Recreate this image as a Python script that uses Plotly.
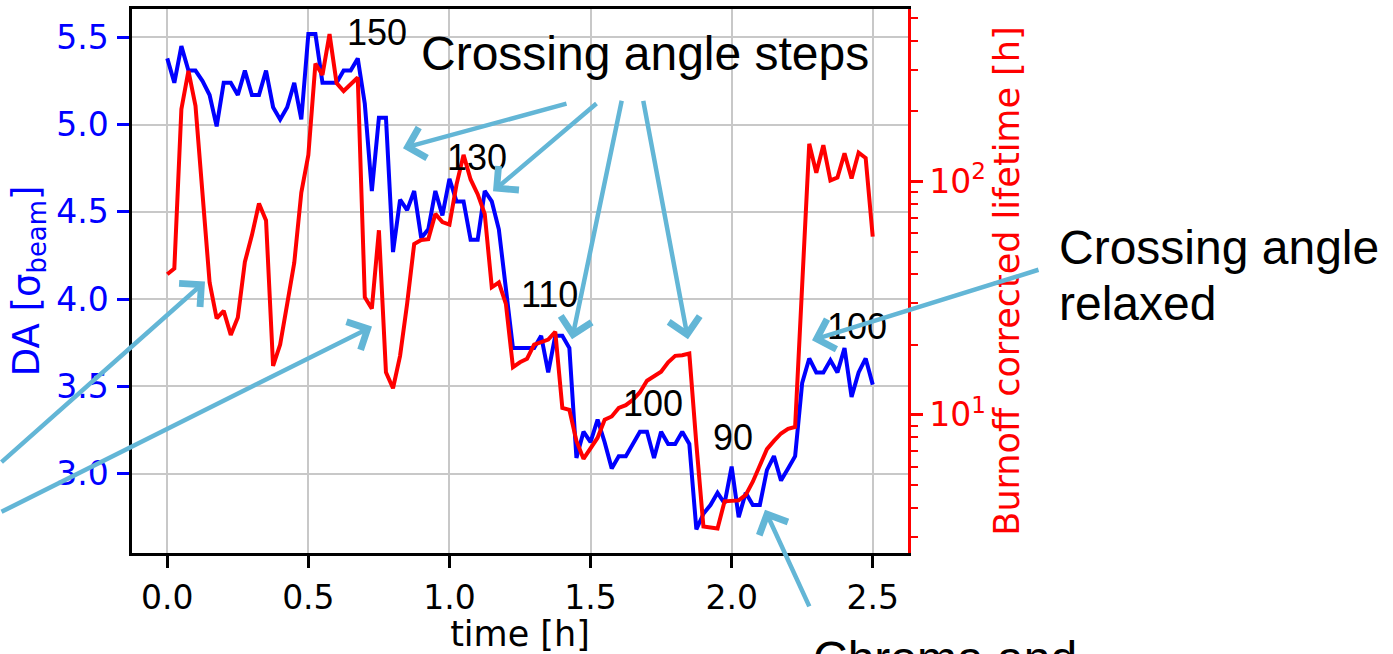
import plotly.graph_objects as go

# ---------------- data ----------------
time_h = [0.000, 0.025, 0.050, 0.075, 0.100, 0.125, 0.150, 0.175, 0.200, 0.225,
          0.250, 0.275, 0.300, 0.325, 0.350, 0.375, 0.400, 0.425, 0.450, 0.475,
          0.500, 0.525, 0.550, 0.575, 0.600, 0.625, 0.650, 0.675, 0.700, 0.725,
          0.750, 0.775, 0.800, 0.825, 0.850, 0.875, 0.900, 0.925, 0.950, 0.975,
          1.000, 1.025, 1.050, 1.075, 1.100, 1.125, 1.150, 1.175, 1.200, 1.225,
          1.250, 1.275, 1.300, 1.325, 1.350, 1.375, 1.400, 1.425, 1.450, 1.475,
          1.500, 1.525, 1.550, 1.575, 1.600, 1.625, 1.650, 1.675, 1.700, 1.725,
          1.750, 1.775, 1.800, 1.825, 1.850, 1.875, 1.900, 1.925, 1.950, 1.975,
          2.000, 2.025, 2.050, 2.075, 2.100, 2.125, 2.150, 2.175, 2.200, 2.225,
          2.250, 2.275, 2.300, 2.325, 2.350, 2.375, 2.400, 2.425, 2.450, 2.475,
          2.500]

da_sigma = [5.38, 5.24, 5.45, 5.31, 5.31, 5.25, 5.17, 4.99, 5.24, 5.24,
            5.17, 5.31, 5.17, 5.17, 5.31, 5.10, 5.03, 5.10, 5.24, 5.03,
            5.52, 5.52, 5.24, 5.24, 5.24, 5.31, 5.31, 5.38, 5.12, 4.62,
            5.04, 5.04, 4.27, 4.57, 4.51, 4.62, 4.35, 4.40, 4.62, 4.48,
            4.69, 4.56, 4.56, 4.34, 4.34, 4.62, 4.56, 4.40, 4.08, 3.72,
            3.72, 3.72, 3.72, 3.79, 3.58, 3.79, 3.79, 3.72, 3.09, 3.24,
            3.18, 3.31, 3.18, 3.03, 3.10, 3.10, 3.17, 3.24, 3.24, 3.09,
            3.24, 3.17, 3.17, 3.24, 3.17, 2.68, 2.77, 2.82, 2.89, 2.83,
            3.04, 2.75, 2.89, 2.82, 2.82, 3.02, 3.10, 2.96, 3.03, 3.10,
            3.52, 3.66, 3.58, 3.58, 3.65, 3.58, 3.72, 3.44, 3.58, 3.66,
            3.51]

lifetime_h = [40.0, 42.4, 204, 298, 211, 91, 36.9, 25.9, 27.9, 22.0,
              26.1, 45.2, 58.9, 80.5, 68.1, 16.2, 20.0, 29.9, 44.8, 89.6,
              130, 320, 286, 428, 264, 244, 260, 279, 31.9, 28.5,
              61.8, 15.2, 13.0, 17.9, 29.9, 54.0, 56.1, 56.6, 72.6, 67.0,
              65.3, 97, 130, 102, 88.2, 72.6, 35.2, 36.9, 29.9, 16.0,
              16.8, 17.4, 20.0, 20.6, 21.0, 22.7, 10.7, 10.5, 7.73, 6.48,
              7.25, 7.98, 9.53, 9.84, 10.7, 11.0, 11.6, 12.5, 14.0, 14.7,
              15.3, 16.8, 17.9, 18.0, 18.3, 7.5, 3.32, 3.29, 3.26, 4.26,
              4.26, 4.30, 4.54, 5.17, 6.07, 7.13, 7.73, 8.32, 8.71, 8.88,
              36, 145, 109, 143, 101, 104, 132, 103, 133, 126,
              58]

x_ticks = [0.0, 0.5, 1.0, 1.5, 2.0, 2.5]
da_ticks = [3.0, 3.5, 4.0, 4.5, 5.0, 5.5]
lt_ticks = [10, 100]
lt_ticktext = ["10<sup>1</sup>", "10<sup>2</sup>"]
lt_minor = [3, 4, 5, 6, 7, 8, 9, 20, 30, 40, 50, 60, 70, 80, 90, 200, 300, 400, 500]

# crossing-angle labels [µrad]
angle_labels = ["150", "130", "110", "100", "90", "100"]

# ---------------- layout geometry (pixels) ----------------
W, H = 1393, 654
L, R, T, B = 132, 908, 6, 561


def paper(px, py):
    return (px - L) / (R - L), (B - py) / (B - T)


tick_font = dict(family="DejaVu Sans", size=33)
title_font = dict(family="DejaVu Sans", size=35)
ann_font = dict(family="Liberation Sans, Arial", size=48, color="black")
num_font = dict(family="Liberation Sans, Arial", size=36, color="black")
arrow_color = "#63B6D6"

fig = go.Figure()
fig.add_trace(go.Scatter(x=time_h, y=da_sigma, mode="lines",
                         line=dict(color="#0000ff", width=4), yaxis="y"))
fig.add_trace(go.Scatter(x=time_h, y=lifetime_h, mode="lines",
                         line=dict(color="#ff0000", width=4), yaxis="y2"))

annotations = []

# crossing angle value labels (pixel centres)
label_pos = [(377, 30), (477, 157), (549, 297), (653, 408), (733, 443), (857, 330)]
for txt, (px, py) in zip(angle_labels, label_pos):
    xp, yp = paper(px, py)
    annotations.append(dict(x=xp, y=yp, xref="paper", yref="paper", text=txt,
                            showarrow=False, font=num_font,
                            xanchor="center", yanchor="middle"))

# text blocks
for txt, px, py, xa in [("Crossing angle steps", 645, 51, "center"),
                        ("Crossing angle", 1057, 249, "left"),
                        ("relaxed", 1057, 306, "left")]:
    xp, yp = paper(px, py)
    annotations.append(dict(x=xp, y=yp, xref="paper", yref="paper", text=txt,
                            showarrow=False, font=ann_font,
                            xanchor=xa, yanchor="middle"))

xp, yp = paper(811, 640)
annotations.append(dict(x=xp, y=yp, xref="paper", yref="paper", text="Chroma and",
                        showarrow=False, font=ann_font,
                        xanchor="left", yanchor="top"))

# arrows: (head, tail) in pixels
arrows = [((403, 148), (568, 103)),
          ((493, 192), (598, 103)),
          ((572, 343), (622, 103)),
          ((688, 343), (643, 103)),
          ((205, 284), (-30, 466)),
          ((372, 330), (-30, 516)),
          ((812, 344), (1040, 273)),
          ((765, 517), (810, 615))]
for (hx, hy), (tx, ty) in arrows:
    xp, yp = paper(hx, hy)
    annotations.append(dict(x=xp, y=yp, xref="paper", yref="paper", text="",
                            showarrow=True, arrowhead=4, arrowsize=1.35,
                            arrowwidth=4.5, arrowcolor=arrow_color,
                            ax=tx - hx, ay=ty - hy, standoff=0))

fig.update_layout(
    width=W, height=H,
    margin=dict(l=L, r=W - R, t=T, b=H - B),
    paper_bgcolor="white", plot_bgcolor="white",
    showlegend=False,
    annotations=annotations,
    xaxis=dict(range=[-0.125, 2.625], tickvals=x_ticks, tickformat=".1f",
               showgrid=True, gridcolor="#c8c8c8", gridwidth=2,
               zeroline=False, showline=True, linecolor="black", linewidth=2.5,
               mirror=True, ticks="outside", ticklen=12, tickwidth=2.5,
               tickcolor="black", tickfont=dict(color="black", **tick_font),
               ticklabelstandoff=2,
               title=dict(text="time [h]", font=dict(color="black", **title_font),
                          standoff=6)),
    yaxis=dict(range=[2.545, 5.663], tickvals=da_ticks, tickformat=".1f",
               showgrid=True, gridcolor="#c8c8c8", gridwidth=2,
               zeroline=False, showline=True, linecolor="black", linewidth=2.5,
               ticks="outside", ticklen=12, tickwidth=2.5, tickcolor="#0000ff",
               tickfont=dict(color="#0000ff", **tick_font),
               ticklabelstandoff=2,
               title=dict(text="DA [σ<sub>beam</sub>]",
                          font=dict(color="#0000ff", size=37, family="DejaVu Sans"),
                          standoff=6)),
    yaxis2=dict(type="log", range=[0.408, 2.739], overlaying="y", side="right",
                tickvals=lt_ticks, ticktext=lt_ticktext,
                showgrid=False, zeroline=False, showline=True,
                linecolor="#ff0000", linewidth=2.5,
                ticks="outside", ticklen=12, tickwidth=2.5, tickcolor="#ff0000",
                tickfont=dict(color="#ff0000", **tick_font),
                ticklabelstandoff=0,
                minor=dict(tickvals=lt_minor, ticks="outside", ticklen=7,
                           tickwidth=2, tickcolor="#ff0000", showgrid=False),
                title=dict(text="Burnoff corrected lifetime [h]",
                           font=dict(color="#ff0000", **title_font), standoff=10)),
)

fig.write_html("out.html")
